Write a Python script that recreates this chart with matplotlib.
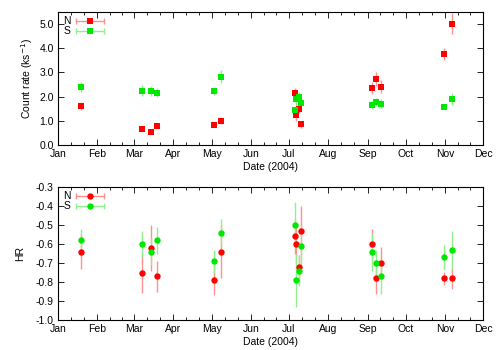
import numpy as np
import matplotlib
matplotlib.use("Agg")
import matplotlib.pyplot as plt

plt.rcParams['font.family'] = ['Liberation Sans', 'DejaVu Sans']
plt.rcParams['axes.unicode_minus'] = False

# Day of 2004 (days since Jan 1)
t = [18.1, 66.0, 73.0, 78.0, 122.7, 128.7, 186.5, 187.9, 190.0, 191.8,
     247.5, 250.6, 254.8, 304.5, 310.3]

rate_N = [1.63, 0.68, 0.53, 0.80, 0.82, 0.99, 2.14, 1.26, 1.48, 0.86,
          2.37, 2.72, 2.42, 3.76, 5.00]
rate_N_err = [0.17, 0.08, 0.05, 0.08, 0.08, 0.12, 0.20, 0.28, 0.15, 0.13,
              0.25, 0.28, 0.28, 0.23, 0.43]
rate_S = [2.40, 2.25, 2.25, 2.17, 2.24, 2.83, 1.46, 1.90, 2.00, 1.76,
          1.67, 1.78, 1.71, 1.58, 1.91]
rate_S_err = [0.22, 0.22, 0.20, 0.17, 0.18, 0.27, 0.10, 0.27, 0.20, 0.20,
              0.17, 0.15, 0.18, 0.10, 0.25]

hr_N = [-0.64, -0.75, -0.62, -0.77, -0.79, -0.64, -0.56, -0.60, -0.72, -0.53,
        -0.60, -0.78, -0.70, -0.78, -0.78]
hr_N_err = [0.09, 0.105, 0.12, 0.08, 0.08, 0.14, 0.09, 0.10, 0.06, 0.13,
            0.08, 0.08, 0.085, 0.035, 0.055]
hr_S = [-0.58, -0.60, -0.64, -0.58, -0.69, -0.54, -0.50, -0.79, -0.74, -0.61,
        -0.64, -0.70, -0.77, -0.67, -0.63]
hr_S_err = [0.06, 0.07, 0.07, 0.07, 0.06, 0.07, 0.12, 0.14, 0.08, 0.11,
            0.10, 0.07, 0.09, 0.065, 0.10]

month_labels = ['Jan', 'Feb', 'Mar', 'Apr', 'May', 'Jun', 'Jul', 'Aug',
                'Sep', 'Oct', 'Nov', 'Dec']
month_starts = [0, 31, 60, 91, 121, 152, 182, 213, 244, 274, 305, 335]

RED = '#ff0000'
GREEN = '#00e800'
RED_E = '#ff9090'
GREEN_E = '#90f090'

fig = plt.figure(figsize=(5.0, 3.5), dpi=100)
ax1 = fig.add_axes([58/500, 1-145.3/350, 425/500, 133.6/350])
ax2 = fig.add_axes([58/500, 1-320.3/350, 425/500, 133.6/350])

fs = 7.5
MS = 4.6

minor = []
for a, b in zip(month_starts[:-1], month_starts[1:]):
    minor += [a + (b - a) / 3, a + 2 * (b - a) / 3]


def style(ax):
    ax.set_xlim(month_starts[0], month_starts[-1])
    ax.set_xticks(month_starts)
    ax.set_xticklabels(month_labels)
    ax.set_xticks(minor, minor=True)
    ax.tick_params(which='both', direction='in', top=True, right=True,
                   labelsize=fs, width=0.6, pad=3)
    ax.tick_params(which='major', length=4)
    ax.tick_params(which='minor', length=2.5)
    for s in ax.spines.values():
        s.set_linewidth(0.8)
    ax.set_xlabel('Date (2004)', fontsize=fs, labelpad=2)


def legend(ax, marker):
    for yy, lab, c, ce in [(0.933, 'N', RED, RED_E), (0.858, 'S', GREEN, GREEN_E)]:
        ax.plot([0.042, 0.108], [yy, yy], color=ce, lw=1.0, transform=ax.transAxes)
        ax.plot([0.042, 0.108], [yy, yy], ls='none', marker='|', ms=4.5, mew=1.0,
                color=ce, transform=ax.transAxes)
        ax.plot([0.075], [yy], ls='none', marker=marker, ms=MS, mew=0, color=c,
                transform=ax.transAxes)
        ax.text(0.03, yy, lab, ha='right', va='center', fontsize=fs,
                transform=ax.transAxes)


ekw = dict(ls='none', elinewidth=1.0, capsize=2.5, capthick=1.0)

ax1.errorbar(t, rate_N, yerr=rate_N_err, fmt='s', color=RED, ecolor=RED_E,
             ms=MS, mew=0, **ekw)
ax1.errorbar(t, rate_S, yerr=rate_S_err, fmt='s', color=GREEN, ecolor=GREEN_E,
             ms=MS, mew=0, **ekw)
style(ax1)
ax1.set_ylim(0, 5.5)
ax1.set_yticks(np.arange(0, 5.01, 1.0))
ax1.set_yticklabels(['%.1f' % v for v in np.arange(0, 5.01, 1.0)])
ax1.set_ylabel('Count rate (ks$^{-1}$)', fontsize=fs, labelpad=3)
legend(ax1, 's')

ax2.errorbar(t, hr_N, yerr=hr_N_err, fmt='o', color=RED, ecolor=RED_E,
             ms=MS, mew=0, **ekw)
ax2.errorbar(t, hr_S, yerr=hr_S_err, fmt='o', color=GREEN, ecolor=GREEN_E,
             ms=MS, mew=0, **ekw)
style(ax2)
ax2.set_ylim(-1.0, -0.3)
yt = np.round(np.arange(-1.0, -0.29, 0.1), 1)
ax2.set_yticks(yt)
ax2.set_yticklabels(['%.1f' % v for v in yt])
ax2.set_ylabel('HR', fontsize=fs, labelpad=8)
legend(ax2, 'o')

fig.savefig('out.png', dpi=100)
